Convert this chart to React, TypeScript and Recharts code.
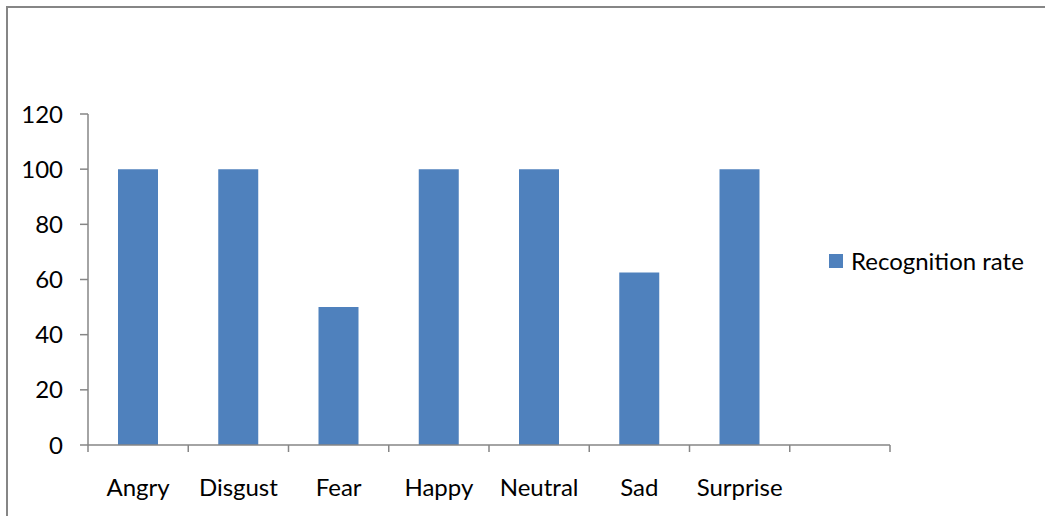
import { BarChart, Bar, XAxis, YAxis } from 'recharts';

const categories = ['Angry', 'Disgust', 'Fear', 'Happy', 'Neutral', 'Sad', 'Surprise', ''];
const recognitionRate = [100, 100, 50, 100, 100, 62.5, 100, null];
const yTicks = [0, 20, 40, 60, 80, 100, 120];
const seriesName = 'Recognition rate';

const data = categories.map((c, i) => ({ name: c, [seriesName]: recognitionRate[i] }));

const AXIS = '#868686';
const BAR = '#4f81bd';
const FONT = 'Lato, "Noto Sans", sans-serif';
const FS = 24;

const W = 1037;
const H = 508;
const margin = { top: 106, right: 155, left: 20, bottom: 31 };
const Y_W = 60;
const plotW = W - margin.left - margin.right - Y_W;
const band = plotW / categories.length;

// category label in the middle of the slot, tick marks on the slot borders
const SlotTick = (props: any) => {
  const { x, y, payload, index } = props;
  return (
    <g>
      <line x1={x - band / 2} x2={x - band / 2} y1={y} y2={y + 7} stroke={AXIS} strokeWidth={1.5} />
      {index === categories.length - 1 && (
        <line x1={x + band / 2} x2={x + band / 2} y1={y} y2={y + 7} stroke={AXIS} strokeWidth={1.5} />
      )}
      <text x={x} y={y + 51} textAnchor="middle" fill="#000" fontSize={FS} fontFamily={FONT}>
        {payload.value}
      </text>
    </g>
  );
};

export default function App() {
  return (
    <div style={{ position: 'absolute', left: 6, top: 6, width: W + 4, height: H + 4, borderLeft: `2px solid ${AXIS}`, borderTop: `2px solid ${AXIS}`, fontFamily: FONT, background: '#fff' }}>
      <BarChart width={W} height={H} data={data} margin={margin} barCategoryGap={30}>
        <XAxis
          dataKey="name"
          height={40}
          tickLine={false}
          tickSize={0}
          tickMargin={0}
          interval={0}
          stroke={AXIS}
          strokeWidth={1.5}
          tick={<SlotTick />}
        />
        <YAxis
          domain={[0, 120]}
          ticks={yTicks}
          width={Y_W}
          tickSize={8}
          tickMargin={17}
          stroke={AXIS}
          strokeWidth={1.5}
          tick={{ fill: '#000', fontSize: FS, fontFamily: FONT }}
        />
        <Bar dataKey={seriesName} fill={BAR} isAnimationActive={false} />
      </BarChart>
      <div style={{ position: 'absolute', left: 821, top: 238, display: 'flex', alignItems: 'center' }}>
        <span style={{ width: 14, height: 14, background: BAR, display: 'inline-block', marginRight: 8 }} />
        <span style={{ fontSize: FS, color: '#000', fontFamily: FONT }}>{seriesName}</span>
      </div>
    </div>
  );
}
